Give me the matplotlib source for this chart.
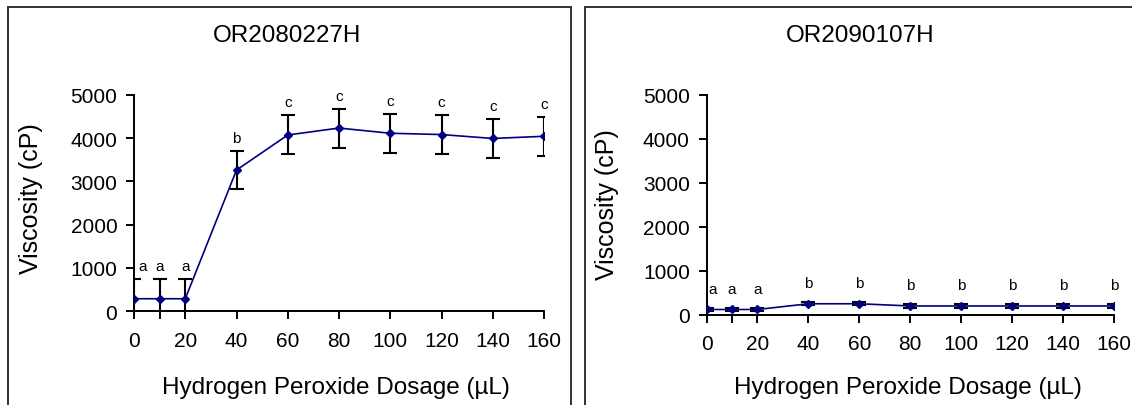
import matplotlib
matplotlib.use("Agg")
import matplotlib.pyplot as plt
from matplotlib.patches import Rectangle

plt.rcParams['font.family'] = ['Liberation Sans', 'DejaVu Sans']

# Hydrogen peroxide dosage (uL)
dosage = [0, 10, 20, 40, 60, 80, 100, 120, 140, 160]
tick_labels = ["0", "", "20", "40", "60", "80", "100", "120", "140", "160"]

# OR2080227H viscosity (cP), standard deviation and significance letters
visc_a = [290, 290, 290, 3260, 4070, 4230, 4110, 4080, 3990, 4040]
err_a = [460, 460, 460, 440, 450, 450, 450, 450, 450, 450]
letters_a = ["a", "a", "a", "b", "c", "c", "c", "c", "c", "c"]

# OR2090107H viscosity (cP), standard deviation and significance letters
visc_b = [125, 125, 125, 255, 255, 205, 205, 205, 205, 205]
err_b = [35, 35, 35, 35, 35, 35, 35, 35, 35, 35]
letters_b = ["a", "a", "a", "b", "b", "b", "b", "b", "b", "b"]

titles = ["OR2080227H", "OR2090107H"]

W, H = 1132, 406
fig = plt.figure(figsize=(W / 100, H / 100), dpi=100)

# panel frames
for x0, x1 in [(8, 571), (585, 1140)]:
    fig.patches.append(Rectangle((x0 / W, -0.05), (x1 - x0) / W, (H - 8) / H + 0.05,
                                 transform=fig.transFigure, fill=False,
                                 edgecolor="#333333", linewidth=1.4))

panels = [
    dict(rect=[134 / W, (H - 312.3) / H, 410 / W, 216.6 / H],
         y=visc_a, e=err_a, lab=letters_a, title=titles[0], tx=287,
         ylx=31, yly=199, xlx=336, lab_off=13, first_dx=3.5),
    dict(rect=[706.5 / W, (H - 316) / H, 407.5 / W, 220.3 / H],
         y=visc_b, e=err_b, lab=letters_b, title=titles[1], tx=860,
         ylx=607, yly=205, xlx=908, lab_off=19, first_dx=2.5),
]

navy = "#000080"
for p in panels:
    ax = fig.add_axes(p["rect"])
    ax.errorbar(dosage, p["y"], yerr=p["e"], color=navy, ecolor="black",
                elinewidth=1.5, capsize=5, capthick=1.5, lw=1.2,
                marker="D", markersize=4.5, markerfacecolor=navy,
                markeredgecolor=navy, clip_on=True, zorder=3)
    for i, (xv, yv, ev, t) in enumerate(zip(dosage, p["y"], p["e"], p["lab"])):
        dx = p["first_dx"] if i == 0 else 0
        ax.annotate(t, (xv + dx, yv + ev), xytext=(0, p["lab_off"]),
                    textcoords="offset pixels", ha="center", va="center",
                    fontsize=11, color="black")
    ax.set_xlim(0, 160)
    ax.set_ylim(0, 5000)
    ax.set_xticks(dosage)
    ax.set_xticklabels(tick_labels)
    ax.set_yticks([0, 1000, 2000, 3000, 4000, 5000])
    for s in ["top", "right"]:
        ax.spines[s].set_visible(False)
    for s in ["left", "bottom"]:
        ax.spines[s].set_linewidth(1.4)
        ax.spines[s].set_color("black")
    ax.tick_params(axis="both", direction="out", length=6, width=1.4,
                   labelsize=15, pad=6, colors="black")
    ax.tick_params(axis="x", pad=8)
    fig.text(p["tx"] / W, 1 - 36 / H, p["title"], ha="center", va="center",
             fontsize=17.5)
    fig.text(p["ylx"] / W, 1 - p["yly"] / H, "Viscosity (cP)", rotation=90,
             ha="center", va="center", fontsize=18)
    fig.text(p["xlx"] / W, 1 - 388 / H, "Hydrogen Peroxide Dosage (\u00b5L)",
             ha="center", va="center", fontsize=17.5)

fig.savefig("out.png", dpi=100)
